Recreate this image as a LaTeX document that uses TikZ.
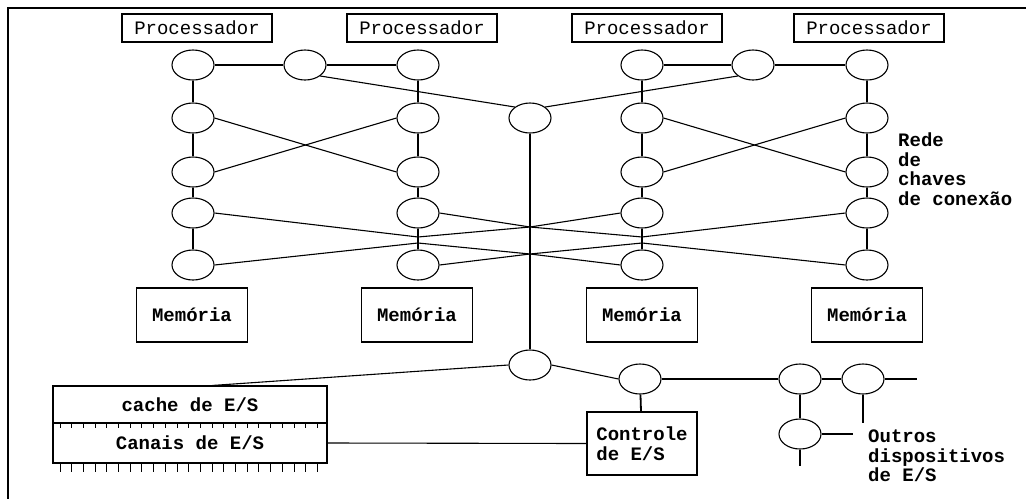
\documentclass[tikz,border=0pt]{standalone}
\usepackage{fontspec}
\setmainfont{Liberation Mono}
\usetikzlibrary{shapes.geometric,calc}
\begin{document}
\begin{tikzpicture}[x=1pt,y=-1pt,
  sw/.style={draw,ellipse,minimum width=42pt,minimum height=30pt,inner sep=0pt,line width=1.1pt},
  box/.style={draw,rectangle,line width=1.1pt,inner sep=0pt,font=\fontsize{19}{20}\selectfont\bfseries},
  proc/.style={box,minimum width=150pt,minimum height=28pt,font=\fontsize{19}{20}\selectfont},
  mem/.style={box,minimum width=111pt,minimum height=54pt},
  link/.style={line width=1.1pt},
  vlink/.style={line width=1.8pt},
  lbl/.style={align=left,inner sep=0pt,font=\fontsize{19}{19.5}\selectfont\bfseries}]

\useasboundingbox (0,0) rectangle (1026,499);
% page frame (top and left edges)
\draw[line width=1.3pt] (1026,8) -- (8,8) -- (8,499);

% processors
\node[proc] (p1) at (197,28) {Processador};
\node[proc] (p2) at (422,28) {Processador};
\node[proc] (p3) at (647,28) {Processador};
\node[proc] (p4) at (869,28) {Processador};

% switch columns
\foreach \c/\x in {1/193,2/418,3/642,4/867}
  \foreach \r/\y in {1/65,2/118,3/172,4/213,5/265}
    \node[sw] (s\c\r) at (\x,\y) {};

\node[sw] (ml) at (305,65) {};
\node[sw] (mr) at (753,65) {};
\node[sw] (ctr) at (530,118) {};

% memories
\node[mem] (m1) at (192,315) {Memória};
\node[mem] (m2) at (417,315) {Memória};
\node[mem] (m3) at (642,315) {Memória};
\node[mem] (m4) at (867,315) {Memória};

% vertical chains
\foreach \c in {1,2,3,4}
  \foreach \r/\n in {1/2,2/3,3/4,4/5}
    \draw[vlink] (s\c\r) -- (s\c\n);

% top row and crossings
\draw[link] (s11) -- (ml) -- (s21);
\draw[link] (s31) -- (mr) -- (s41);
\draw[link] (s12.east) -- (s23.west);
\draw[link] (s13.east) -- (s22.west);
\draw[link] (s32.east) -- (s43.west);
\draw[link] (s33.east) -- (s42.west);
\draw[link] (ml.south east) -- (ctr.north west);
\draw[link] (mr.south west) -- (ctr.north east);

% lower bundles meeting the central bus
\coordinate (bu) at (530,227);
\coordinate (bd) at (530,254);
\coordinate (jlu) at (418,237);
\coordinate (jld) at (418,243);
\coordinate (jru) at (642,237);
\coordinate (jrd) at (642,243);
\draw[link] (s14.east) -- (jlu) -- (bu);
\draw[link] (s15.east) -- (jld) -- (bd);
\draw[link] (s24.east) -- (bu);
\draw[link] (s25.east) -- (bd);
\draw[link] (s44.west) -- (jru) -- (bu);
\draw[link] (s45.west) -- (jrd) -- (bd);
\draw[link] (s34.west) -- (bu);
\draw[link] (s35.west) -- (bd);

% I/O side
\node[sw] (b1) at (530,365) {};
\node[sw] (b2) at (640,379) {};
\node[sw] (b3) at (800,379) {};
\node[sw] (b4) at (863,379) {};
\node[sw] (b5) at (800,434) {};

\draw[vlink] (ctr) -- (b1);

\node[box,minimum width=274pt,minimum height=37pt] (cache) at (190,404.5) {cache de E/S};
\node[box,minimum width=274pt,minimum height=40pt] (can) at (190,443) {Canais de E/S};
\foreach \i in {0,...,22} {
  \draw[line width=1pt] ({60+\i*11.7},423) -- ++(0,5);
  \draw[line width=1pt] ({60+\i*11.7},463) -- ++(0,9);
}

\node[box,minimum width=110pt,minimum height=63pt,align=left] (ctl) at (642,443.5) {Controle\\de E/S};

\coordinate (ct) at ($(cache.north west)+(160,0)$);
\draw[link] (b1.west) -- (ct);
\draw[link] (b1.east) -- (b2.west);
\draw[vlink] (b2) -- (ctl);
\draw[link] (can.east) -- (ctl.west);
\draw[link] (b2) -- (b3);
\draw[link] (b3) -- (b4);
\draw[vlink] (b3) -- (b5);

\coordinate (e4r) at (917,379);
\coordinate (e4d) at (863,423);
\coordinate (e5r) at (853,434);
\coordinate (e5d) at (800,466);
\draw[link] (b4.east) -- (e4r);
\draw[vlink] (b4.south) -- (e4d);
\draw[link] (b5.east) -- (e5r);
\draw[vlink] (b5.south) -- (e5d);

% labels
\node[lbl,anchor=north west] (rede) at (898,133) {Rede\\de\\chaves\\de conexão};
\node[lbl,anchor=north west] (out) at (868,430) {Outros\\dispositivos\\de E/S};
\end{tikzpicture}
\end{document}
